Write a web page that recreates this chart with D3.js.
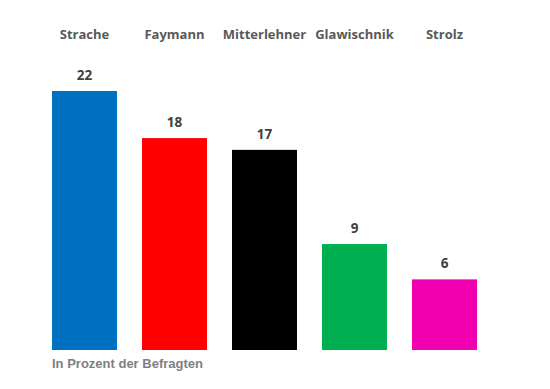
<!DOCTYPE html>
<html>
<head>
<meta charset="utf-8">
<script src="https://cdn.jsdelivr.net/npm/d3@7"></script>
<style>
  html, body { margin: 0; padding: 0; background: #fff; }
</style>
</head>
<body>
<div id="chart"></div>
<script>
const names = ["Strache", "Faymann", "Mitterlehner", "Glawischnik", "Strolz"];
const values = [22, 18, 17, 9, 6];
const colors = ["#0070C0", "#FF0000", "#000000", "#00B050", "#F000B0"];
const footnote = "In Prozent der Befragten";

const width = 550, height = 389;
const baseY = 350;

const data = names.map((n, i) => ({ name: n, value: values[i], color: colors[i] }));

const svg = d3.select("#chart")
  .append("svg")
  .attr("width", width)
  .attr("height", height);

const x = d3.scaleBand()
  .domain(names)
  .range([39.5, 489.5])
  .paddingInner(25 / 90)
  .paddingOuter(12.5 / 90);

const y = d3.scaleLinear()
  .domain([0, 22])
  .range([baseY, 91]);

// bars
svg.selectAll(".bar")
  .data(data)
  .join("rect")
  .attr("class", "bar")
  .attr("x", d => x(d.name))
  .attr("y", d => y(d.value))
  .attr("width", x.bandwidth())
  .attr("height", d => y(0) - y(d.value))
  .attr("fill", d => d.color);

// value labels
svg.selectAll(".val")
  .data(data)
  .join("text")
  .attr("class", "val")
  .attr("x", d => x(d.name) + x.bandwidth() / 2)
  .attr("y", d => y(d.value) - 11)
  .attr("text-anchor", "middle")
  .style("font-family", "'Open Sans', sans-serif")
  .style("font-weight", 700)
  .style("font-size", "13.5px")
  .attr("fill", "#404040")
  .text(d => d.value);

// category labels at the top
svg.selectAll(".cat")
  .data(data)
  .join("text")
  .attr("class", "cat")
  .attr("x", d => x(d.name) + x.bandwidth() / 2)
  .attr("y", 39)
  .attr("text-anchor", "middle")
  .style("font-family", "'Open Sans', sans-serif")
  .style("font-weight", 700)
  .style("font-size", "13px")
  .attr("fill", "#595959")
  .text(d => d.name);

// footnote
svg.append("text")
  .attr("x", 52)
  .attr("y", 368)
  .style("font-family", "'Liberation Sans', Arial, sans-serif")
  .style("font-weight", 700)
  .style("font-size", "13px")
  .attr("fill", "#7F7F7F")
  .text(footnote);
</script>
</body>
</html>
